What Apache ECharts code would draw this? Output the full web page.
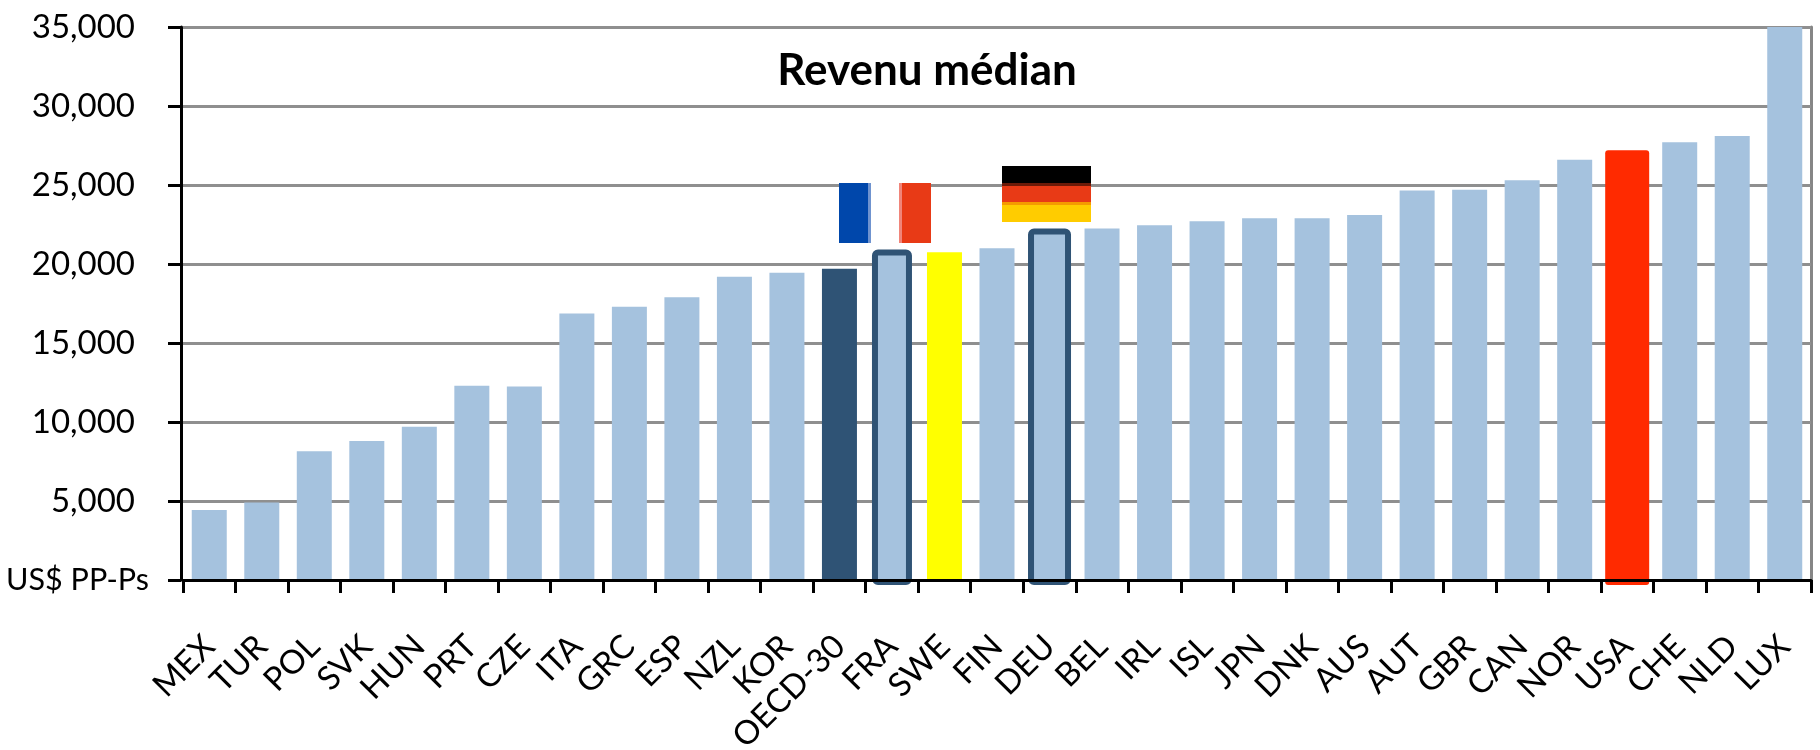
<!DOCTYPE html>
<html>
<head>
<meta charset="utf-8">
<style>
html, body { margin: 0; padding: 0; background: #fff; }
#chart { width: 1820px; height: 750px; }
</style>
<script src="https://cdn.jsdelivr.net/npm/echarts@6/dist/echarts.min.js"></script>
</head>
<body>
<div id="chart"></div>
<script>
const countries = ['MEX', 'TUR', 'POL', 'SVK', 'HUN', 'PRT', 'CZE', 'ITA', 'GRC', 'ESP', 'NZL', 'KOR', 'OECD-30', 'FRA', 'SWE', 'FIN', 'DEU', 'BEL', 'IRL', 'ISL', 'JPN', 'DNK', 'AUS', 'AUT', 'GBR', 'CAN', 'NOR', 'USA', 'CHE', 'NLD', 'LUX'];
const medianIncome = [4430, 4900, 8150, 8800, 9700, 12300, 12250, 16870, 17300, 17900, 19200, 19450, 19700, 20730, 20750, 21000, 22050, 22250, 22450, 22700, 22900, 22900, 23100, 24650, 24700, 25300, 26600, 27200, 27700, 28100, 35000];
const highlighted = ['FRA', 'DEU', 'USA'];
const title = 'Revenu médian';
const zeroLabel = 'US$ PP-Ps';

const FONT = 'Lato';
const BAR = '#a5c2de';
const DARK = '#2f5375';

function barColor(name) {
    if (name === 'OECD-30') return DARK;
    if (name === 'SWE') return '#ffff00';
    return BAR;
}

// the outlined bars run a little past the axis, so they are drawn by hand from the scales
function renderHighlight(params, api) {
    const name = countries[api.value(0)];
    const top = api.coord([api.value(0), api.value(1)]);
    const base = api.coord([api.value(0), 0]);
    if (name === 'USA') {
        return {
            type: 'rect',
            shape: { x: top[0] - 22, y: top[1], width: 44, height: base[1] - top[1] + 5, r: 3 },
            style: { fill: '#ff2a00' }
        };
    }
    const w = name === 'DEU' ? 37 : 34;
    return {
        type: 'rect',
        shape: { x: top[0] - w / 2, y: top[1], width: w, height: base[1] - top[1] + 2, r: 3 },
        style: { fill: BAR, stroke: DARK, lineWidth: 6 }
    };
}

function band(x, y, w, h, fill) {
    return { type: 'rect', shape: { x: x, y: y, width: w, height: h }, style: { fill: fill }, z: 10 };
}
// flags sit above the FRA and DEU bars
const flags = [
    band(839, 183, 29, 60, '#0047ab'),
    band(868, 183, 3, 60, '#6f93cf'),
    band(871, 183, 28, 60, '#ffffff'),
    band(899, 183, 3, 60, '#f0857a'),
    band(902, 183, 29, 60, '#e83a16'),
    band(1002, 166, 89, 17, '#000000'),
    band(1002, 183, 89, 3, '#6b1a08'),
    band(1002, 186, 89, 16, '#e83a16'),
    band(1002, 202, 89, 3, '#f59a00'),
    band(1002, 205, 89, 17, '#ffcc00')
];

const chart = echarts.init(document.getElementById('chart'), null, { renderer: 'canvas' });
chart.setOption({
    animation: false,
    backgroundColor: '#fff',
    textStyle: { fontFamily: FONT },
    title: {
        text: title,
        left: 922,
        top: 44,
        textAlign: 'center',
        textStyle: { fontFamily: FONT, fontSize: 44, fontWeight: 'bold', color: '#000' }
    },
    grid: {
        left: 183,
        right: 9,
        top: 27,
        bottom: 170,
        outerBoundsMode: 'none'
    },
    xAxis: {
        type: 'category',
        data: countries,
        z: 5,
        axisLine: { onZero: false, lineStyle: { color: '#000', width: 3 } },
        axisTick: { show: true, alignWithLabel: false, length: 13, lineStyle: { color: '#000', width: 3 } },
        axisLabel: { interval: 0, rotate: 45, margin: 61, fontFamily: FONT, fontSize: 33, color: '#000', hideOverlap: false }
    },
    yAxis: [{
        type: 'value',
        min: 0,
        max: 35000,
        interval: 5000,
        offset: 2,
        z: 1,
        axisLine: { show: true, lineStyle: { color: '#000', width: 3 } },
        axisTick: { show: true, length: 13, lineStyle: { color: '#000', width: 3 } },
        splitLine: { show: true, lineStyle: { color: '#8f8f8f', width: 3 } },
        axisLabel: {
            margin: 32,
            fontFamily: FONT,
            fontSize: 30.5,
            color: '#000',
            formatter: function (v) {
                return v === 0 ? zeroLabel : '{n|' + v.toLocaleString('en-US') + '}';
            },
            rich: { n: { fontFamily: FONT, fontSize: 33, color: '#000', padding: [0, 14, 0, 0] } }
        }
    }, {
        // right hand frame of the plot
        type: 'value',
        position: 'right',
        min: 0,
        max: 35000,
        interval: 5000,
        axisLine: { show: true, lineStyle: { color: '#868686', width: 3 } },
        axisTick: { show: false },
        axisLabel: { show: false },
        splitLine: { show: false }
    }],
    series: [{
        type: 'bar',
        barWidth: 35,
        data: medianIncome.map(function (v, i) {
            if (highlighted.indexOf(countries[i]) >= 0) return null;
            return { value: v, itemStyle: { color: barColor(countries[i]) } };
        })
    }, {
        type: 'custom',
        renderItem: renderHighlight,
        clip: false,
        encode: { x: 0, y: 1 },
        data: highlighted.map(function (name) {
            const i = countries.indexOf(name);
            return [i, medianIncome[i]];
        })
    }],
    graphic: flags
});
</script>
</body>
</html>
